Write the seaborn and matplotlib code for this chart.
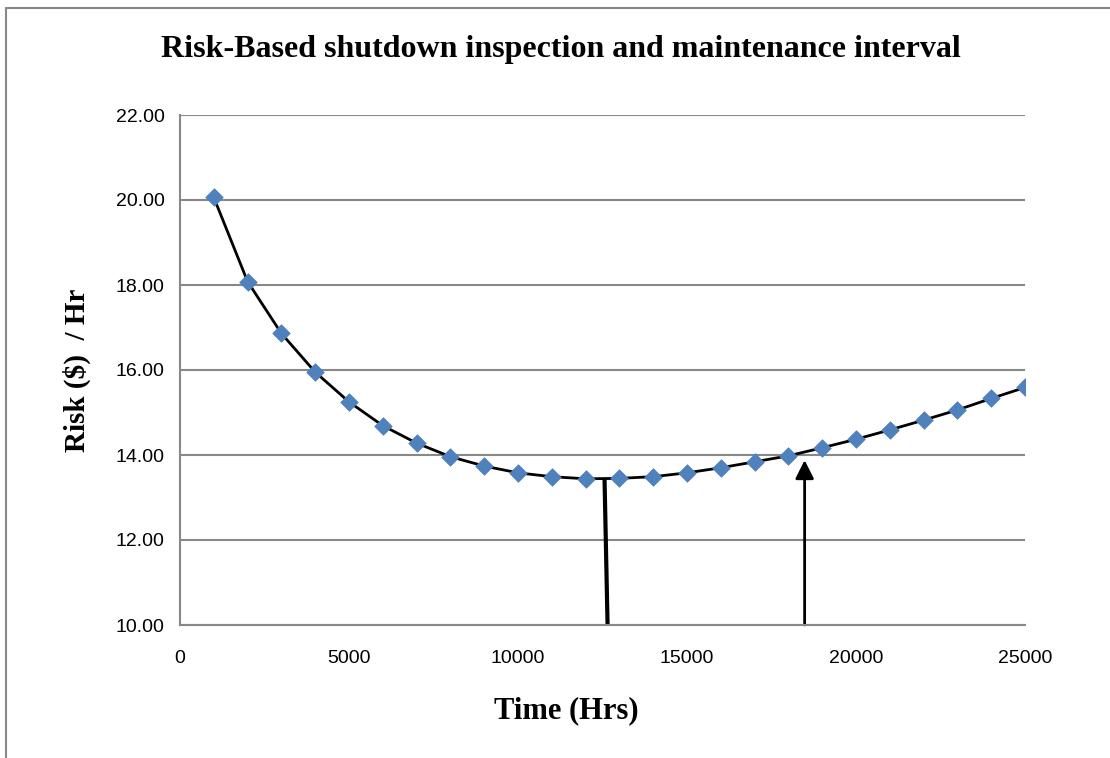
import matplotlib
matplotlib.use("Agg")
import matplotlib.pyplot as plt
import seaborn as sns
import pandas as pd
from matplotlib.lines import Line2D

# ----------------------------------------------------------------------
# Data
# ----------------------------------------------------------------------
time_hrs = [1000, 2000, 3000, 4000, 5000, 6000, 7000, 8000, 9000, 10000,
            11000, 12000, 13000, 14000, 15000, 16000, 17000, 18000, 19000,
            20000, 21000, 22000, 23000, 24000, 25000]
risk_per_hr = [20.06, 18.08, 16.86, 15.95, 15.25, 14.69, 14.28, 13.96, 13.74, 13.58,
               13.49, 13.44, 13.45, 13.49, 13.58, 13.70, 13.84, 13.98, 14.17,
               14.37, 14.59, 14.82, 15.06, 15.33, 15.59]

x_ticks = [0, 5000, 10000, 15000, 20000, 25000]
y_ticks = [10, 12, 14, 16, 18, 20, 22]

# markers on the plot: optimum interval line and the arrow
optimum_x = [12560, 12650]
optimum_y = [13.44, 10.0]
arrow_x = 18480
arrow_y = [10.0, 13.88]

df = pd.DataFrame({"Time": time_hrs, "Risk": risk_per_hr})

sns.set_style("white")
plt.rcParams["text.color"] = "black"
plt.rcParams["axes.labelcolor"] = "black"
serif = ["Liberation Serif", "DejaVu Serif"]
sans = ["Liberation Sans", "DejaVu Sans"]
grid_col = "#888888"

fig = plt.figure(figsize=(11.10, 7.58), dpi=100)
ax = fig.add_axes([180 / 1110, 1 - 625 / 758, 845 / 1110, 510 / 758])

# black line, then blue diamond markers
sns.lineplot(data=df, x="Time", y="Risk", ax=ax, color="black", linewidth=2,
             estimator=None, sort=True, zorder=3)
sns.scatterplot(data=df, x="Time", y="Risk", ax=ax, marker="D", s=80,
                color="#4F81BD", edgecolor="#4F81BD", linewidth=0.5, zorder=4)

ax.plot(optimum_x, optimum_y, color="black", linewidth=3, zorder=2,
        solid_capstyle="butt")
ax.annotate("", xy=(arrow_x, arrow_y[1]), xytext=(arrow_x, arrow_y[0]),
            arrowprops=dict(arrowstyle="-|>", color="black", lw=2,
                            mutation_scale=28, shrinkA=0, shrinkB=0), zorder=2)

ax.set_xlim(0, 25000)
ax.set_ylim(10, 22)
ax.set_xticks(x_ticks)
ax.set_yticks(y_ticks)
ax.set_yticklabels([f"{v:.2f}" for v in y_ticks])
ax.yaxis.grid(True, color=grid_col, linewidth=1.5)
ax.xaxis.grid(False)
for side in ["top", "right"]:
    ax.spines[side].set_visible(False)
for side in ["left", "bottom"]:
    ax.spines[side].set_color(grid_col)
    ax.spines[side].set_linewidth(1.5)
ax.tick_params(axis="both", colors=grid_col, direction="out", length=6,
               width=1.2, labelcolor="black", labelsize=14)
ax.tick_params(axis="x", pad=12)
ax.tick_params(axis="y", pad=5)
for lab in ax.get_xticklabels() + ax.get_yticklabels():
    lab.set_family(sans)

ax.set_xlabel("Time (Hrs)", fontsize=22, fontweight="bold", family=serif,
              color="black")
ax.xaxis.set_label_coords(386 / 845, -0.14)
ax.set_ylabel("Risk ($)  / Hr", fontsize=21, fontweight="bold", family=serif,
              labelpad=18, color="black")
fig.text(561 / 1110, 1 - 49 / 758, "Risk-Based shutdown inspection and maintenance interval",
         ha="center", va="center", fontsize=23, fontweight="bold", family=serif,
         color="black")

# chart area border (only top and left edges are visible in the crop)
fig.add_artist(Line2D([6 / 1110, 6 / 1110], [0, 1 - 8 / 758], transform=fig.transFigure,
                      color=grid_col, linewidth=1.5))
fig.add_artist(Line2D([6 / 1110, 1], [1 - 8 / 758, 1 - 8 / 758], transform=fig.transFigure,
                      color=grid_col, linewidth=1.5))

fig.savefig("out.png", dpi=100)
